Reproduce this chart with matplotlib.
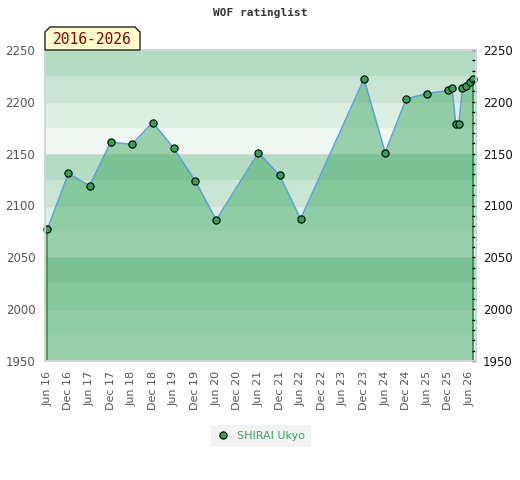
import numpy as np
import pandas as pd
import matplotlib
matplotlib.use("Agg")
import matplotlib.pyplot as plt
import matplotlib.dates as mdates
from matplotlib.patches import Polygon

# rating list dates and ratings
dates = ["2016-06-01", "2016-12-01", "2017-06-01", "2017-12-01", "2018-06-01",
         "2018-12-01", "2019-06-01", "2019-12-01", "2020-06-01", "2021-06-01",
         "2021-12-01", "2022-06-01", "2023-12-01", "2024-06-01", "2024-12-01",
         "2025-06-01", "2025-12-01", "2026-01-01", "2026-02-01", "2026-03-01",
         "2026-04-01", "2026-05-01", "2026-06-01", "2026-07-01"]
ratings = [2077, 2131, 2119, 2161, 2159, 2180, 2155, 2124, 2086, 2151,
           2129, 2087, 2222, 2151, 2203, 2208, 2211, 2213, 2179, 2179,
           2213, 2215, 2219, 2222]
player = "SHIRAI Ukyo"
period = "2016-2026"
title = "WOF ratinglist"
ymin, ymax = 1950, 2250

# background band shades, top of each 100 block first
band_colors = ["#b3dcc3", "#c8e6d3", "#dcefe3", "#eef7f1"]

x = pd.to_datetime(dates)
y = np.array(ratings)

fig = plt.figure(figsize=(5.2, 4.8), dpi=100)
ax = fig.add_axes([45/520, 1-361/480, 431/520, 311/480])

# horizontal bands
edges = np.arange(ymax, ymin, -25)
for i, top in enumerate(edges):
    ax.axhspan(top-25, top, color=band_colors[i % 4], lw=0, zorder=0)
for v in range(ymin, ymax+1, 50):
    ax.axhline(v, color="#d9d9d9", lw=0.8, zorder=0.5)

ax.fill_between(x, y, ymin, color="#41a963", alpha=0.49, lw=0, zorder=1)
ax.vlines([x[0], x[-1]], ymin, [y[0], y[-1]], color="#2e8b4e", lw=1.2, zorder=2)
ax.plot(x, y, color="#5b9fd8", lw=1.1, zorder=3)
ax.plot(x, y, "o", color="#34a058", mec="black", mew=0.8, ms=5.2, zorder=4,
        label=player, clip_on=False)

ax.set_ylim(ymin, ymax)
ax.set_xlim(x[0] - pd.Timedelta(days=20), x[-1] + pd.Timedelta(days=26))

ax.xaxis.set_major_locator(mdates.MonthLocator(bymonth=[6, 12]))
ax.xaxis.set_major_formatter(mdates.DateFormatter("%b %y"))
ax.tick_params(axis="x", length=0, pad=7, labelsize=8, labelcolor="#555555",
               labelrotation=90)

# left: grey labels, no ticks
ax.set_yticks(range(ymin, ymax+1, 50))
ax.tick_params(axis="y", length=0, pad=7, labelsize=8.5, labelcolor="#555555")

# right: black labels, inward ticks every 10
ax2 = ax.twinx()
ax2.set_ylim(ymin, ymax)
ax2.set_yticks(range(ymin, ymax+1, 50))
ax2.set_yticks(range(ymin, ymax+1, 10), minor=True)
ax2.tick_params(axis="y", which="both", direction="in", length=3, width=1,
                color="black", pad=5, labelsize=8.5, labelcolor="#111111")

for a in (ax, ax2):
    for s in a.spines.values():
        s.set_color("#d4d4d4")
        s.set_linewidth(1.2)

# period tag above the plot
w, h, c = 95/431, 23/311, 5/431
tag = Polygon([(0, 1), (0, 1+h-c*431/311), (c, 1+h), (w-c, 1+h),
               (w, 1+h-c*431/311), (w, 1)], closed=True,
              transform=ax.transAxes, clip_on=False, facecolor="#ffffcc",
              edgecolor="#222222", lw=1, zorder=5)
ax2.add_patch(tag)
ax2.text(w/2, 1+h/2-0.002, period, transform=ax.transAxes, ha="center",
         va="center", family="DejaVu Sans Mono", fontsize=10.5,
         color="#8b0000", zorder=6)

fig.text(260/520, 1-13/480, title, ha="center", va="center",
         family="DejaVu Sans Mono", fontweight="bold", fontsize=8,
         color="#333333")

leg = fig.legend(*ax.get_legend_handles_labels(), loc="center",
                 bbox_to_anchor=(261/520, 1-436/480),
                 frameon=True, fancybox=False, fontsize=8, handlelength=1,
                 handletextpad=0.8, borderpad=0.5)
leg.get_frame().set_facecolor("#efefef")
leg.get_frame().set_edgecolor("none")
for t in leg.get_texts():
    t.set_color("#3aa35c")

fig.savefig("out.png", dpi=100)
